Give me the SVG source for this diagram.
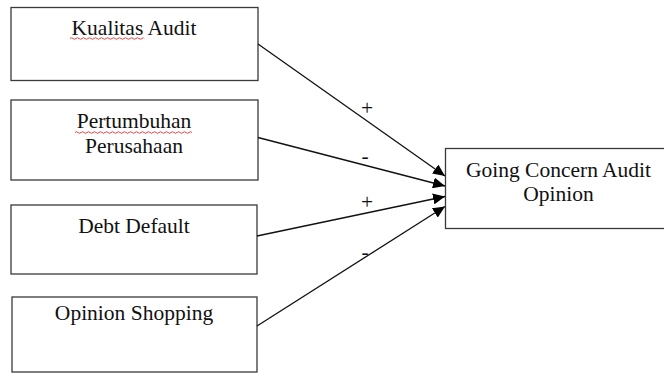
<svg xmlns="http://www.w3.org/2000/svg" width="664" height="374" viewBox="0 0 664 374">
<style>
.box{fill:#fff;stroke:#3a3a3a;stroke-width:1.3}
.t{font-family:"Liberation Serif","Times New Roman",serif;font-size:21.5px;fill:#111;text-anchor:middle}
.c{stroke:#111;stroke-width:1.3;fill:none}
.sq{stroke:#e03030;stroke-width:0.9;fill:none}
</style>
<defs>
<marker id="ah" markerUnits="userSpaceOnUse" markerWidth="13" markerHeight="11" refX="12" refY="5.5" orient="auto">
<path d="M0,0 L12,5.5 L0,11 Z" fill="#000"/>
</marker>
</defs>
<rect width="664" height="374" fill="#fff"/>
<g id="n1">
<rect class="box" x="11" y="7.5" width="247" height="73"/>
<text class="t" x="134" y="35">Kualitas Audit</text>
<path class="sq" d="M70,38.5 q1.5,-1.5 3,0 t3,0 t3,0 t3,0 t3,0 t3,0 t3,0 t3,0 t3,0 t3,0 t3,0 t3,0 t3,0 t3,0 t3,0 t3,0 t3,0 t3,0 t3,0 t3,0 t3,0 t3,0 t3,0 t3,0 t2,0"/>
</g>
<g id="n2">
<rect class="box" x="11" y="100" width="247" height="80"/>
<text class="t" x="134" y="128">Pertumbuhan</text>
<text class="t" x="134" y="153">Perusahaan</text>
<path class="sq" d="M75,132.5 q1.5,-1.5 3,0 t3,0 t3,0 t3,0 t3,0 t3,0 t3,0 t3,0 t3,0 t3,0 t3,0 t3,0 t3,0 t3,0 t3,0 t3,0 t3,0 t3,0 t3,0 t3,0 t3,0 t3,0 t3,0 t3,0 t3,0 t3,0 t3,0 t3,0 t3,0 t3,0 t3,0 t3,0 t3,0 t3,0 t3,0 t3,0 t3,0 t3,0 t3,0"/>
</g>
<g id="n3">
<rect class="box" x="11" y="205" width="246" height="69"/>
<text class="t" x="134" y="232.5">Debt Default</text>
</g>
<g id="n4">
<rect class="box" x="12" y="297" width="245" height="75"/>
<text class="t" x="134" y="320">Opinion Shopping</text>
</g>
<g id="n5">
<rect class="box" x="445.5" y="148.5" width="220" height="80"/>
<text class="t" x="558.5" y="176.5">Going Concern Audit</text>
<text class="t" x="558.5" y="200.5">Opinion</text>
</g>
<g id="connectors">
<line class="c" x1="258" y1="44" x2="445" y2="176" marker-end="url(#ah)"/>
<line class="c" x1="258" y1="137.5" x2="445" y2="186" marker-end="url(#ah)"/>
<line class="c" x1="257" y1="236" x2="445" y2="196.5" marker-end="url(#ah)"/>
<line class="c" x1="257" y1="326" x2="445" y2="206.5" marker-end="url(#ah)"/>
<text class="t" x="367" y="115">+</text>
<text class="t" x="365" y="163">-</text>
<text class="t" x="367" y="209">+</text>
<text class="t" x="365" y="259">-</text>
</g>
</svg>
